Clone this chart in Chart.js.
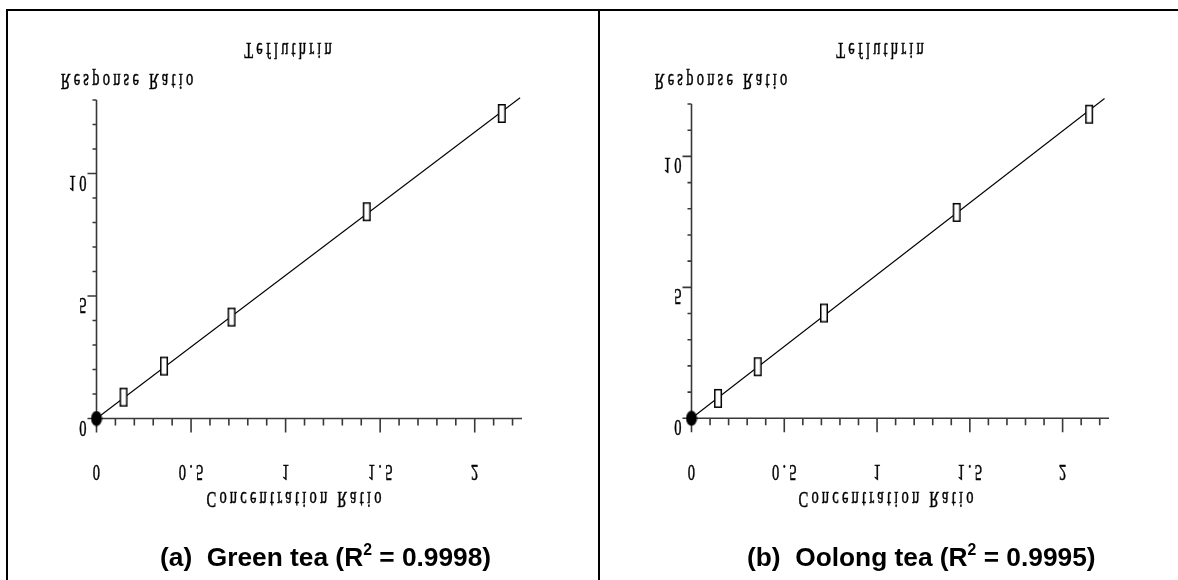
<!DOCTYPE html>
<html>
<head>
<meta charset="utf-8">
<script src="https://cdn.jsdelivr.net/npm/chart.js@4.4.1/dist/chart.umd.min.js"></script>
<style>
  body { margin: 0; background: #fff; width: 1178px; height: 580px; overflow: hidden; position: relative; }
  .panel { position: absolute; top: 0; height: 580px; }
  #left { left: 0; width: 598px; }
  #right { left: 600px; width: 578px; }
  .rule { position: absolute; background: #000; z-index: 2; }
  .caption { position: absolute; top: 542px; line-height: 30px; font: bold 26.3px "Liberation Sans", Arial, sans-serif; white-space: pre; color: #000; }
  .caption sup { font-size: 0.6em; vertical-align: baseline; position: relative; top: -0.7em; line-height: 0; }
</style>
</head>
<body>
<div class="panel" id="left"><canvas id="chartA" width="598" height="580"></canvas></div>
<div class="panel" id="right"><canvas id="chartB" width="578" height="580"></canvas></div>

<div class="rule" style="left:6px; top:9px; width:1172px; height:2px;"></div>
<div class="rule" style="left:6px; top:9px; width:2px; height:571px;"></div>
<div class="rule" style="left:598px; top:9px; width:2px; height:571px;"></div>

<div class="caption" style="left:160px;">(a)  Green tea (R<sup>2</sup> = 0.9998)</div>
<div class="caption" style="left:747px;">(b)  Oolong tea (R<sup>2</sup> = 0.9995)</div>

<script>
// concentration ratio of the standards (shared by both teas)
const concRatio = [0, 0.143, 0.357, 0.714, 1.429, 2.143];
const greenResponse = [0, 0.87, 2.14, 4.14, 8.44, 12.45];
const oolongResponse = [0, 0.76, 1.97, 4.02, 7.86, 11.61];

// end points of the fitted lines
const greenFitX = [0, 2.24];
const greenFitY = [0, 13.09];
const oolongFitX = [0, 2.226];
const oolongFitY = [0, 12.21];

const xTickValues = [0, 0.5, 1, 1.5, 2];
const xTickLabels = ['0', '0.5', '1', '1.5', '2'];
const yTickValues = [0, 5, 10];
const yTickLabels = ['0', '5', '10'];

const chartTitle = 'Tefluthrin';
const yTitle = 'Response Ratio';
const xTitle = 'Concentration Ratio';

const SERIF = '22px "Liberation Serif", "Times New Roman", serif';

// marker images
const boxMarker = document.createElement('canvas');
boxMarker.width = 10; boxMarker.height = 21;
(() => {
    const c = boxMarker.getContext('2d');
    c.fillStyle = '#fff';
    c.fillRect(1.75, 1.75, 6.5, 17.5);
    c.strokeStyle = '#000';
    c.lineWidth = 1.5;
    c.strokeRect(1.75, 1.75, 6.5, 17.5);
})();

const dotMarker = document.createElement('canvas');
dotMarker.width = 12; dotMarker.height = 16;
(() => {
    const c = dotMarker.getContext('2d');
    c.fillStyle = '#000';
    c.beginPath();
    c.ellipse(6, 8, 5.5, 7.5, 0, 0, Math.PI * 2);
    c.fill();
})();

// draws text flipped upside down, squeezed and letter spaced, baseline at y
const flipText = (ctx, text, x, y, align) => {
    const sx = 0.66, gap = 3.2;
    ctx.save();
    ctx.font = SERIF;
    ctx.fillStyle = '#000';
    ctx.strokeStyle = '#000';
    ctx.lineWidth = 0.5;
    ctx.textBaseline = 'alphabetic';
    ctx.textAlign = 'left';
    const chars = [...text];
    const widths = chars.map(ch => ctx.measureText(ch).width * sx);
    const total = widths.reduce((a, b) => a + b, 0) + gap * (chars.length - 1);
    let pos = align === 'center' ? x - total / 2 : align === 'right' ? x - total : x;
    ctx.translate(0, y);
    ctx.scale(1, -1);
    chars.forEach((ch, i) => {
        ctx.save();
        ctx.translate(pos, 0);
        ctx.scale(sx, 1.05);
        ctx.fillText(ch, 0, 0);
        ctx.strokeText(ch, 0, 0);
        ctx.restore();
        pos += widths[i] + gap;
    });
    ctx.restore();
};

const flippedAxes = {
    id: 'flippedAxes',
    beforeDatasetsDraw(chart, args, opts) {
        const ctx = chart.ctx;
        const xs = chart.scales.x, ys = chart.scales.y;
        const x0 = xs.getPixelForValue(0);
        const y0 = ys.getPixelForValue(0);

        ctx.save();
        ctx.strokeStyle = '#383838';
        ctx.lineWidth = 1.6;
        ctx.beginPath();
        ctx.moveTo(x0, y0);
        ctx.lineTo(xs.right, y0);
        ctx.moveTo(x0, y0);
        ctx.lineTo(x0, ys.top);
        ctx.stroke();

        // x ticks every 0.1, longer at every 0.5
        ctx.beginPath();
        for (let i = 0; i <= Math.floor(xs.max * 10 + 1e-6); i++) {
            const px = xs.getPixelForValue(i / 10);
            const len = i % 5 === 0 ? 14 : 7;
            ctx.moveTo(px, y0);
            ctx.lineTo(px, y0 + len);
        }
        // y ticks every 1, longer at every 5
        for (let v = 0; v <= ys.max; v++) {
            const py = ys.getPixelForValue(v);
            const len = v % 5 === 0 ? 9 : 4;
            ctx.moveTo(x0, py);
            ctx.lineTo(x0 - len, py);
        }
        ctx.stroke();
        ctx.restore();

        xTickValues.forEach((v, i) => {
            flipText(ctx, xTickLabels[i], xs.getPixelForValue(v), opts.xLabelY, 'center');
        });
        yTickValues.forEach((v, i) => {
            flipText(ctx, yTickLabels[i], x0 - 10, ys.getPixelForValue(v) + 2, 'right');
        });

        flipText(ctx, chartTitle, opts.title[0], opts.title[1], 'center');
        flipText(ctx, yTitle, opts.yTitle[0], opts.yTitle[1], 'center');
        flipText(ctx, xTitle, opts.xTitle[0], opts.xTitle[1], 'center');
    }
};

const makeChart = (id, resp, fitX, fitY, yMax, padding, layoutOpts) => {
    const points = concRatio.map((c, i) => ({ x: c, y: resp[i] }));
    const fit = fitX.map((c, i) => ({ x: c, y: fitY[i] }));
    return new Chart(document.getElementById(id), {
        type: 'scatter',
        data: {
            datasets: [{
                data: points,
                pointStyle: (c) => c.dataIndex === 0 ? dotMarker : boxMarker,
                clip: false
            }, {
                data: fit,
                showLine: true,
                borderColor: '#000',
                borderWidth: 1.1,
                pointRadius: 0,
                clip: false
            }]
        },
        options: {
            responsive: false,
            animation: false,
            layout: { padding: padding, autoPadding: false },
            scales: {
                x: { type: 'linear', min: 0, max: 2.25, display: false },
                y: { type: 'linear', min: 0, max: yMax, display: false }
            },
            plugins: {
                legend: { display: false },
                tooltip: { enabled: false },
                flippedAxes: layoutOpts
            }
        },
        plugins: [flippedAxes]
    });
};

makeChart('chartA', greenResponse, greenFitX, greenFitY, 13,
    { left: 96.5, right: 76, top: 100, bottom: 161.5 },
    { xLabelY: 465, title: [288, 43], yTitle: [127, 74], xTitle: [294, 492] });

makeChart('chartB', oolongResponse, oolongFitX, oolongFitY, 12,
    { left: 91.5, right: 69, top: 104, bottom: 161.7 },
    { xLabelY: 465, title: [280, 43], yTitle: [121, 74], xTitle: [286, 492] });
</script>
</body>
</html>
